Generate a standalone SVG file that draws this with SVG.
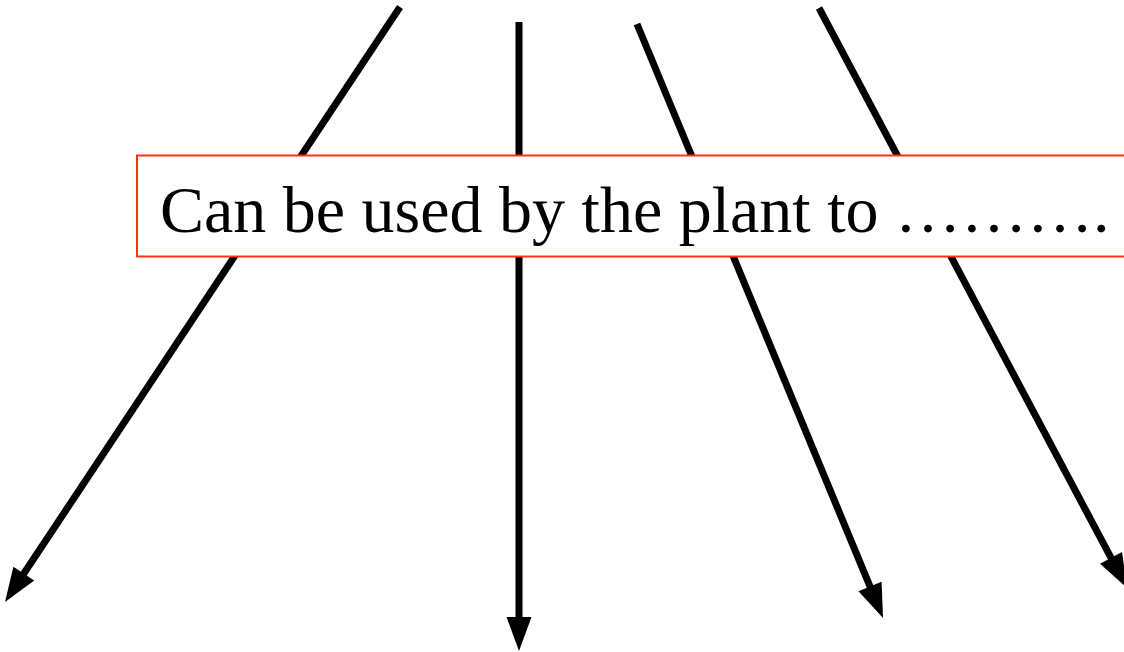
<svg xmlns="http://www.w3.org/2000/svg" width="1124" height="652" viewBox="0 0 1124 652">
  <style>
    .arrow { stroke: #000; stroke-width: 7; fill: none; marker-end: url(#head); }
    .box { fill: #fff; stroke: #ff3311; stroke-width: 2; }
    .label { font-family: "Liberation Serif", "Times New Roman", serif; font-size: 66px; fill: #000; }
  </style>
  <defs>
    <marker id="head" markerUnits="userSpaceOnUse" markerWidth="36" markerHeight="26" refX="2" refY="12.5" orient="auto" overflow="visible">
      <path d="M0,0 L34,12.5 L0,25 z" fill="#000"/>
    </marker>
  </defs>
  <rect width="1124" height="652" fill="#fff"/>
  <g id="connectors">
    <line class="arrow" x1="400" y1="7" x2="22.7" y2="575.3"/>
    <line class="arrow" x1="519" y1="22" x2="519" y2="619"/>
    <line class="arrow" x1="637" y1="24" x2="870.8" y2="588.4"/>
    <line class="arrow" x1="819" y1="8" x2="1112" y2="559.7"/>
  </g>
  <g id="node-label">
    <rect class="box" x="137" y="155.5" width="1000" height="101"/>
    <text class="label" x="160" y="232">Can be used by the plant to ……….</text>
  </g>
</svg>
